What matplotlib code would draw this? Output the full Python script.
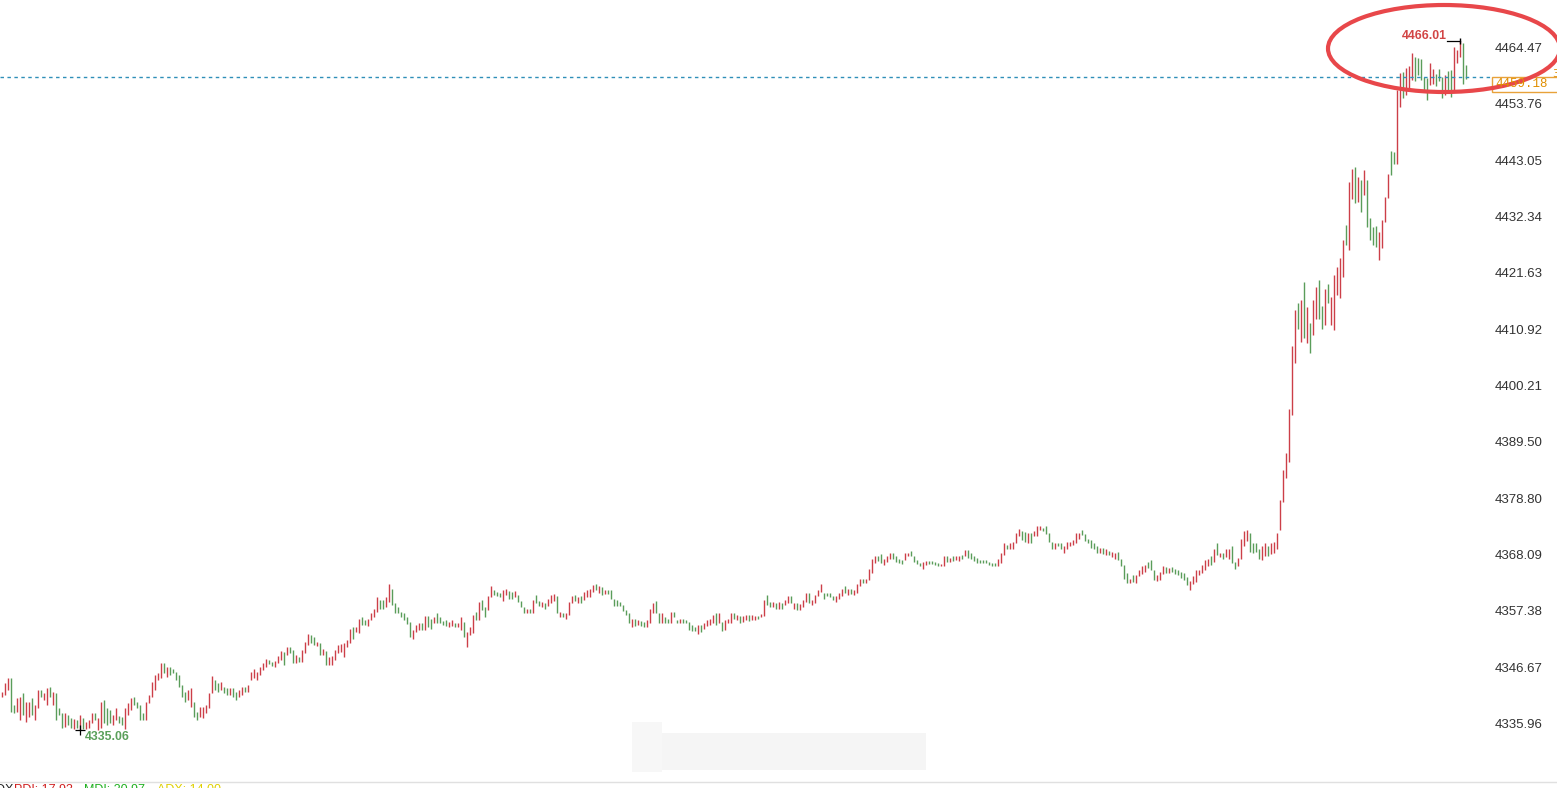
import matplotlib
matplotlib.use("Agg")
import matplotlib.pyplot as plt
from matplotlib.patches import Ellipse, Rectangle
from matplotlib.lines import Line2D

# price bars (high / low, R = up bar, G = down bar)
bar_high = [
    # left part
    4342.3, 4343.9, 4344.8, 4344.8, 4339.8, 4341.0, 4341.3, 4342.0, 4340.4, 4340.4,
    4341.0, 4339.8, 4342.6, 4342.6, 4342.0, 4342.9, 4343.2, 4342.3, 4342.0, 4339.1,
    4338.2, 4338.3, 4337.9, 4337.2, 4337.1, 4336.9, 4337.9, 4337.2, 4336.6, 4336.9,
    4338.3, 4338.2, 4337.2, 4340.4, 4340.8, 4339.1, 4338.8, 4337.9, 4339.1, 4337.7,
    4337.5, 4339.1, 4340.1, 4341.0, 4341.3, 4340.4, 4339.8, 4338.2, 4340.4, 4341.7,
    4344.2, 4345.5, 4345.8, 4347.7, 4347.7, 4347.0, 4347.0, 4346.7, 4346.1, 4345.5,
    4343.6, 4342.3, 4342.6, 4342.9, 4340.4, 4338.5, 4339.4, 4339.4, 4339.8, 4342.0,
    4345.3, 4344.6, 4343.9, 4344.2, 4343.2, 4342.9, 4342.9, 4342.9, 4342.3, 4342.6,
    4343.2, 4343.2, 4343.6,
    4346.1, 4346.7, 4346.1, 4346.9, 4347.7, 4348.6, 4348.4, 4348.0, 4348.2, 4349.1,
    4350.1, 4349.9, 4350.7, 4350.8, 4350.3, 4349.2, 4348.9, 4350.3, 4351.8, 4353.2,
    4353.1, 4352.7, 4351.8, 4351.5, 4350.5, 4350.1, 4348.9, 4349.1, 4350.2, 4351.2,
    4351.3, 4351.6, 4352.2, 4354.3, 4354.6, 4354.5, 4356.2, 4356.5, 4356.0, 4356.2,
    4357.3, 4358.1, 4360.3, 4359.7, 4359.7, 4360.3, 4362.8, 4361.9, 4359.1, 4358.3,
    4357.5, 4357.2, 4356.5, 4355.6, 4354.1, 4355.0, 4355.3, 4355.4, 4356.7, 4356.7,
    4356.2, 4356.5, 4357.2, 4356.5, 4355.8, 4355.9, 4355.6, 4355.9, 4355.4, 4355.3,
    4356.5, 4355.6, 4353.7, 4354.6, 4356.9, 4357.5, 4359.4, 4359.8, 4358.4, 4360.5,
    # middle
    4362.4, 4361.6, 4361.3, 4361.1, 4361.6, 4361.9, 4361.5, 4361.3, 4361.5, 4360.7,
    4359.6, 4358.4, 4358.1, 4358.1, 4359.7, 4360.7, 4359.6, 4359.4, 4359.2, 4360.0,
    4360.7, 4360.9, 4360.4, 4357.5, 4357.3, 4357.3, 4359.4, 4360.4, 4360.7, 4360.2,
    4360.5, 4361.3, 4361.6, 4361.9, 4362.6, 4362.8, 4362.3, 4362.1, 4361.7, 4361.7,
    4361.6, 4360.0, 4359.8, 4359.4, 4358.8, 4357.9, 4357.2, 4356.2, 4356.2, 4355.9,
    4355.8, 4355.6, 4355.9, 4358.1, 4359.1, 4359.6, 4357.3, 4357.2, 4356.5, 4356.2,
    4357.5, 4357.5, 4356.0, 4356.2, 4356.2, 4356.0, 4355.6, 4355.0, 4354.6, 4355.0,
    4355.0, 4355.3, 4355.9, 4356.2, 4356.9, 4357.2, 4357.2, 4355.6, 4355.9, 4356.2,
    4357.3, 4357.2, 4356.9, 4356.7, 4356.7, 4356.9, 4356.9, 4356.9, 4356.7, 4356.7,
    4357.0, 4359.7, 4360.7, 4359.4, 4359.4, 4359.1, 4359.4, 4359.1, 4359.7, 4360.5,
    4360.5, 4359.2, 4359.1, 4358.9, 4359.7, 4361.0, 4361.0, 4359.7, 4360.7, 4361.6,
    4362.8, 4361.1, 4361.1, 4361.0, 4360.5, 4360.4, 4361.0, 4361.9, 4362.3, 4361.9,
    4361.8, 4361.6, 4362.8, 4363.8, 4363.8, 4363.8, 4365.6, 4367.5, 4368.0, 4368.1,
    4368.5, 4367.6, 4368.0, 4368.6, 4368.6, 4368.1, 4367.6, 4367.3, 4368.6, 4368.7,
    4369.0, 4368.0, 4367.3, 4366.8, 4367.0, 4367.2, 4367.2, 4367.2, 4367.0, 4366.7,
    4366.6, 4368.1, 4368.0, 4367.8, 4368.0, 4368.0, 4368.1, 4368.3, 4369.2, 4369.2,
    4368.6, 4368.1, 4367.8,
    4367.3, 4367.3, 4367.4, 4367.0, 4366.8, 4366.7, 4367.6, 4368.7, 4370.5, 4370.2,
    4370.6, 4370.8, 4372.5, 4373.3, 4372.9, 4372.7, 4372.4, 4372.4, 4372.9, 4373.7,
    4373.7, 4373.5, 4373.8, 4372.4, 4370.8, 4370.5, 4370.6, 4370.5, 4369.9, 4370.8,
    4370.8, 4371.1, 4372.4, 4372.5, 4373.0, 4372.3, 4371.4, 4371.1, 4370.5, 4369.9,
    4369.7, 4369.7, 4369.5, 4369.1, 4368.9, 4368.7, 4368.9, 4367.6, 4366.4, 4364.8,
    4363.8, 4364.5, 4364.5, 4365.4, 4366.2, 4366.4, 4367.0, 4367.3, 4365.4, 4364.5,
    4365.1, 4366.2, 4366.0, 4365.9, 4366.0, 4365.7, 4365.5, 4365.1, 4364.8, 4364.1,
    4363.4, 4364.3, 4365.4, 4365.4, 4366.4, 4367.3, 4367.6, 4368.0, 4369.4, 4370.5,
    4368.7, 4368.7, 4369.5, 4369.4, 4369.9, 4367.0, 4367.8, 4371.4, 4372.9, 4373.1,
    4372.5, 4370.6, 4370.5, 4369.5,
    4369.9, 4370.6, 4370.0, 4370.6, 4370.8, 4372.5,
    # rally at the right
    4378.7, 4384.4, 4387.6, 4396.1, 4408.1, 4414.8, 4416.1, 4416.7, 4420.1, 4415.4,
    4412.3, 4416.8, 4419.2, 4420.5, 4415.6, 4418.9, 4419.8, 4417.4, 4421.5, 4423.1,
    4424.8, 4428.1, 4431.0, 4439.2, 4441.6, 4442.0, 4440.2, 4439.6, 4441.5, 4439.6,
    4432.3, 4430.7, 4430.9, 4429.6, 4432.0, 4436.4, 4440.8, 4445.1, 4444.9, 4456.7,
    4459.9, 4460.1, 4460.8, 4461.2, 4463.8, 4462.9, 4462.7, 4462.5, 4459.2, 4458.9,
    4461.9, 4460.6, 4459.8, 4460.6, 4459.2, 4459.5, 4460.3, 4460.5, 4464.8, 4464.3,
    4466.01, 4465.6, 4461.4,
]

bar_low = [
    4341.2, 4341.7, 4342.6, 4338.5, 4338.3, 4338.5, 4336.9, 4337.9, 4336.6, 4337.5,
    4337.9, 4337.0, 4339.1, 4341.3, 4340.7, 4339.8, 4341.3, 4339.8, 4336.9, 4337.9,
    4335.3, 4335.5, 4336.0, 4335.3, 4335.2, 4335.4, 4335.06, 4335.2, 4335.2, 4335.4,
    4336.3, 4336.9, 4335.1, 4335.3, 4336.3, 4336.0, 4336.3, 4336.0, 4336.9, 4336.3,
    4336.0, 4335.2, 4337.9, 4338.8, 4339.8, 4339.1, 4336.9, 4336.9, 4336.9, 4340.1,
    4341.3, 4342.6, 4344.5, 4344.8, 4345.8, 4345.1, 4345.4, 4345.8, 4344.5, 4343.2,
    4341.3, 4340.4, 4340.7, 4339.4, 4337.5, 4337.0, 4337.5, 4337.2, 4338.2, 4339.1,
    4342.0, 4342.6, 4342.3, 4342.6, 4342.0, 4341.7, 4341.7, 4341.3, 4340.7, 4341.3,
    4341.7, 4342.3, 4342.3,
    4344.5, 4344.8, 4344.6, 4345.4, 4346.4, 4347.0, 4347.5, 4347.2, 4347.0, 4347.7,
    4348.3, 4347.4, 4349.2, 4349.6, 4347.7, 4347.8, 4348.0, 4348.0, 4349.6, 4351.2,
    4351.5, 4351.2, 4351.0, 4349.2, 4349.2, 4347.4, 4347.4, 4347.4, 4348.3, 4349.6,
    4349.9, 4348.8, 4350.7, 4351.6, 4352.4, 4353.7, 4353.5, 4355.0, 4355.0, 4354.8,
    4356.0, 4356.5, 4357.5, 4358.1, 4358.1, 4358.3, 4359.4, 4358.8, 4357.3, 4357.2,
    4356.5, 4356.0, 4355.1, 4352.7, 4352.4, 4353.7, 4354.0, 4354.0, 4354.0, 4354.6,
    4354.3, 4355.3, 4355.3, 4355.4, 4355.0, 4354.8, 4354.6, 4354.8, 4354.6, 4354.5,
    4354.1, 4352.7, 4350.8, 4353.1, 4353.4, 4355.9, 4356.0, 4357.9, 4356.5, 4357.9,
    4360.3, 4360.7, 4360.5, 4360.3, 4359.6, 4360.7, 4360.0, 4360.0, 4360.3, 4359.4,
    4358.3, 4357.2, 4357.3, 4357.2, 4357.2, 4359.1, 4358.6, 4358.3, 4358.1, 4358.6,
    4359.1, 4359.6, 4357.2, 4356.5, 4356.5, 4356.2, 4356.9, 4359.1, 4359.6, 4359.1,
    4359.1, 4359.8, 4360.3, 4360.2, 4361.3, 4361.6, 4361.1, 4360.7, 4360.9, 4360.9,
    4360.0, 4358.6, 4358.6, 4358.6, 4357.7, 4356.9, 4355.3, 4354.5, 4354.8, 4355.0,
    4354.8, 4354.6, 4354.6, 4355.4, 4357.2, 4357.3, 4355.3, 4355.3, 4355.4, 4355.3,
    4355.4, 4356.5, 4355.3, 4355.3, 4355.3, 4355.3, 4354.1, 4353.9, 4353.9, 4353.2,
    4353.7, 4354.3, 4354.8, 4355.0, 4355.3, 4355.0, 4355.4, 4353.9, 4354.1, 4355.3,
    4355.4, 4356.2, 4355.9, 4355.3, 4355.6, 4355.9, 4355.8, 4355.9, 4355.9, 4356.2,
    4356.4, 4356.7, 4358.8, 4358.4, 4358.4, 4358.1, 4358.1, 4358.1, 4358.8, 4359.1,
    4359.1, 4358.1, 4357.8, 4357.8, 4358.4, 4359.4, 4359.2, 4358.8, 4359.2, 4360.4,
    4361.3, 4360.0, 4360.4, 4360.2, 4359.7, 4359.4, 4360.0, 4360.5, 4361.0, 4360.7,
    4360.9, 4360.7, 4361.1, 4362.3, 4363.0, 4363.0, 4363.6, 4364.8, 4366.8, 4367.2,
    4366.8, 4366.4, 4367.0, 4367.6, 4367.5, 4367.0, 4366.7, 4366.6, 4367.3, 4368.0,
    4368.0, 4367.0, 4366.6, 4366.2, 4365.7, 4366.4, 4366.6, 4366.6, 4366.4, 4366.2,
    4366.1, 4366.2, 4367.0, 4367.0, 4367.2, 4367.3, 4367.2, 4367.5, 4368.0, 4367.8,
    4367.5, 4367.2, 4366.8,
    4366.8, 4366.8, 4366.8, 4366.4, 4366.2, 4366.1, 4366.2, 4366.7, 4368.3, 4369.4,
    4369.5, 4369.4, 4370.5, 4371.9, 4371.2, 4370.8, 4370.5, 4370.5, 4371.8, 4371.9,
    4373.0, 4372.9, 4372.3, 4370.8, 4369.4, 4369.5, 4369.9, 4369.5, 4368.7, 4369.4,
    4369.9, 4370.2, 4370.6, 4371.4, 4372.1, 4371.0, 4370.5, 4369.7, 4369.4, 4368.6,
    4368.6, 4368.5, 4368.3, 4368.3, 4367.9, 4367.6, 4367.3, 4366.1, 4363.8, 4363.0,
    4363.0, 4363.2, 4363.0, 4364.2, 4364.7, 4365.1, 4365.9, 4365.4, 4363.5, 4363.4,
    4363.5, 4364.7, 4364.9, 4364.9, 4365.1, 4364.7, 4364.5, 4364.0, 4363.5, 4362.6,
    4361.7, 4362.8, 4363.2, 4364.5, 4364.8, 4365.4, 4366.2, 4366.4, 4367.0, 4368.3,
    4367.9, 4367.6, 4367.9, 4367.6, 4366.7, 4365.7, 4366.1, 4367.6, 4369.9, 4371.0,
    4368.9, 4368.6, 4368.9, 4367.6,
    4367.4, 4368.1, 4368.0, 4368.5, 4368.6, 4369.5,
    4373.1, 4378.4, 4382.9, 4385.9, 4394.8, 4404.7, 4411.3, 4408.7, 4409.5, 4408.5,
    4406.6, 4410.1, 4413.2, 4413.2, 4411.3, 4412.0, 4416.1, 4412.0, 4411.1, 4417.7,
    4417.1, 4421.2, 4427.2, 4426.2, 4436.0, 4435.1, 4435.4, 4433.5, 4436.7, 4430.7,
    4428.1, 4427.2, 4426.9, 4424.3, 4426.6, 4431.6, 4436.1, 4440.5, 4442.7, 4442.7,
    4453.5, 4455.1, 4455.7, 4456.7, 4458.6, 4458.3, 4459.5, 4458.6, 4456.5, 4454.8,
    4457.6, 4457.9, 4457.4, 4458.3, 4455.1, 4455.7, 4456.7, 4455.4, 4456.5, 4461.8,
    4463.0, 4457.9, 4458.7,
]

bar_dir = (
    "RRRGGRRGRR" "GRRGRRGRGG" "GRGGRGRGRR" "RGRRGGGRRG" "GRRRGGGGRR"
    "RRRRGRGGGG" "GGRRGGRRRR" "RGGRGGRGGR" "RGR"
    "RRRRRRGGRR" "RGRGGRGRRR" "GGRGRGRRRR" "RRRRGRRGGR" "RRRGGRRGGG"
    "GGGGRRRGRG" "GRGGGGRRGR" "RGRRRGRGGR"
    "RGGGRRGGRG" "GGRGRGGRGR" "RRGRGRRRGR" "GRRRRGRGRG" "GGGGGGGRGR"
    "GGRRRGGRGG" "RGGRGGGGGR" "GRRRRGRGRR"
    "RGRGRRGRRG" "RRGGRGRGRR" "GRGRRRGRRR" "RGGGGRRRGR" "GRRRGRRRRG"
    "GRRRGGGGRR" "GGGGRRGGGG" "RRGRGRRGRG" "GGG"
    "GGGGGGRRRG" "RRRRGGRGRR" "RGGGGRGGRR" "RRRRGGGGGG" "RGRGRRGGGG"
    "RGRRRRGGGR" "RRGRGGGGGG" "RRRRRRRGRG" "RGRRGGRRRR" "GGGG"
    "RRGRRR"
    "RRRRRRGRGR" "GRRGGRGRRR" "RRGRRGRGRG" "GGGRRRRGGR" "RGRRRGGGGG"
    "RRGGGRGGRR" "RGG"
)

y_ticks = [4464.47, 4453.76, 4443.05, 4432.34, 4421.63, 4410.92, 4400.21,
           4389.50, 4378.80, 4368.09, 4357.38, 4346.67, 4335.96]
last_price = 4459.18
high_label = "4466.01"
low_label = "4335.06"

W, H = 1557, 788
RED = "#cc3f48"
GREEN = "#5a9d5a"

fig = plt.figure(figsize=(W / 100, H / 100), dpi=100)
ax = fig.add_axes([0, 0, 1, 1])
ax.axis("off")

n = len(bar_high)
step = (1466.3 - 2.3) / (n - 1)          # pixels per bar
ax.set_xlim(-2.3 / step, (W - 2.3) / step)
ppu = (725 - 49) / (y_ticks[0] - y_ticks[-1])   # pixels per price unit
top = y_ticks[0] + 49 / ppu
ax.set_ylim(top - H / ppu, top)

xs = list(range(n))
cols = [RED if d == "R" else GREEN for d in bar_dir]
ax.vlines(xs, bar_low, bar_high, colors=cols, linewidth=1.0)

# price scale on the right
for v in y_ticks:
    ax.text(1495 / W, v, f"{v:.2f}", transform=ax.get_yaxis_transform(),
            ha="left", va="center", fontsize=9.5, color="#333333",
            family="Liberation Sans")

# last price line + label box
ax.axhline(last_price, xmin=0, xmax=1490 / W, color="#2f8fb8",
           linewidth=1.0, linestyle=(0, (2.5, 2.5)))
ybox = 1 - (H - (last_price - ax.get_ylim()[0]) * ppu) / H
ax.add_patch(Rectangle((1492 / W, ybox - 15 / H), 70 / W, 15 / H,
                       transform=ax.transAxes, facecolor="white",
                       edgecolor="#e8a23a", linewidth=1.0))
ax.text(1495 / W, ybox - 7.5 / H, f"{last_price:.2f}", transform=ax.transAxes,
        ha="left", va="center", fontsize=9, color="#e08e00",
        family="Liberation Mono", zorder=6)
ax.text(1552 / W, ybox + 3 / H, "3", transform=ax.transAxes, ha="left",
        va="center", fontsize=8, color="#e08e00")

# high marker
i_hi = bar_high.index(max(bar_high))
ax.plot([i_hi - 4.3, i_hi], [bar_high[i_hi]] * 2, color="black", linewidth=0.9)
ax.plot(i_hi, bar_high[i_hi], marker="|", markersize=4, color="black")
ax.text(i_hi - 4.6, bar_high[i_hi] + 5 / ppu, high_label, ha="right",
        va="center", fontsize=8.8, fontweight="bold", color="#d24545",
        family="Liberation Sans")

# low marker
i_lo = bar_low.index(min(bar_low))
ax.plot(i_lo, bar_low[i_lo], marker="+", markersize=7, color="black",
        markeredgewidth=0.9)
ax.text(i_lo + 1.5, bar_low[i_lo] - 7 / ppu, low_label, ha="left",
        va="center", fontsize=8.8, fontweight="bold", color="#5aa05a",
        family="Liberation Sans")

# red hand-drawn circle
ax.add_patch(Ellipse((1444 / W, 1 - 48.5 / H), 232 / W, 87 / H,
                     transform=ax.transAxes, fill=False,
                     edgecolor="#e8474a", linewidth=3.0, zorder=5))

# faint watermark block
ax.add_patch(Rectangle((632 / W, 1 - 772 / H), 30 / W, 50 / H,
                       transform=ax.transAxes, color="#f7f7f7", linewidth=0))
ax.add_patch(Rectangle((662 / W, 1 - 770 / H), 264 / W, 37 / H,
                       transform=ax.transAxes, color="#f5f5f5", linewidth=0))

# indicator strip at the bottom (cut off in the source as well)
fig.add_artist(Line2D([0, 1], [1 - 782 / H] * 2, color="#e0e0e0", linewidth=1))
for xp, txt, c in [(-4, "DX", "#222222"), (14, "PDI: 17.93", "#d02020"),
                   (84, "MDI: 20.97", "#20b020"), (157, "ADX: 14.00", "#e0d000")]:
    fig.text(xp / W, 1 - 784 / H, txt, ha="left", va="top", fontsize=9,
             color=c, family="Liberation Sans")

fig.savefig("out.png", dpi=100)
